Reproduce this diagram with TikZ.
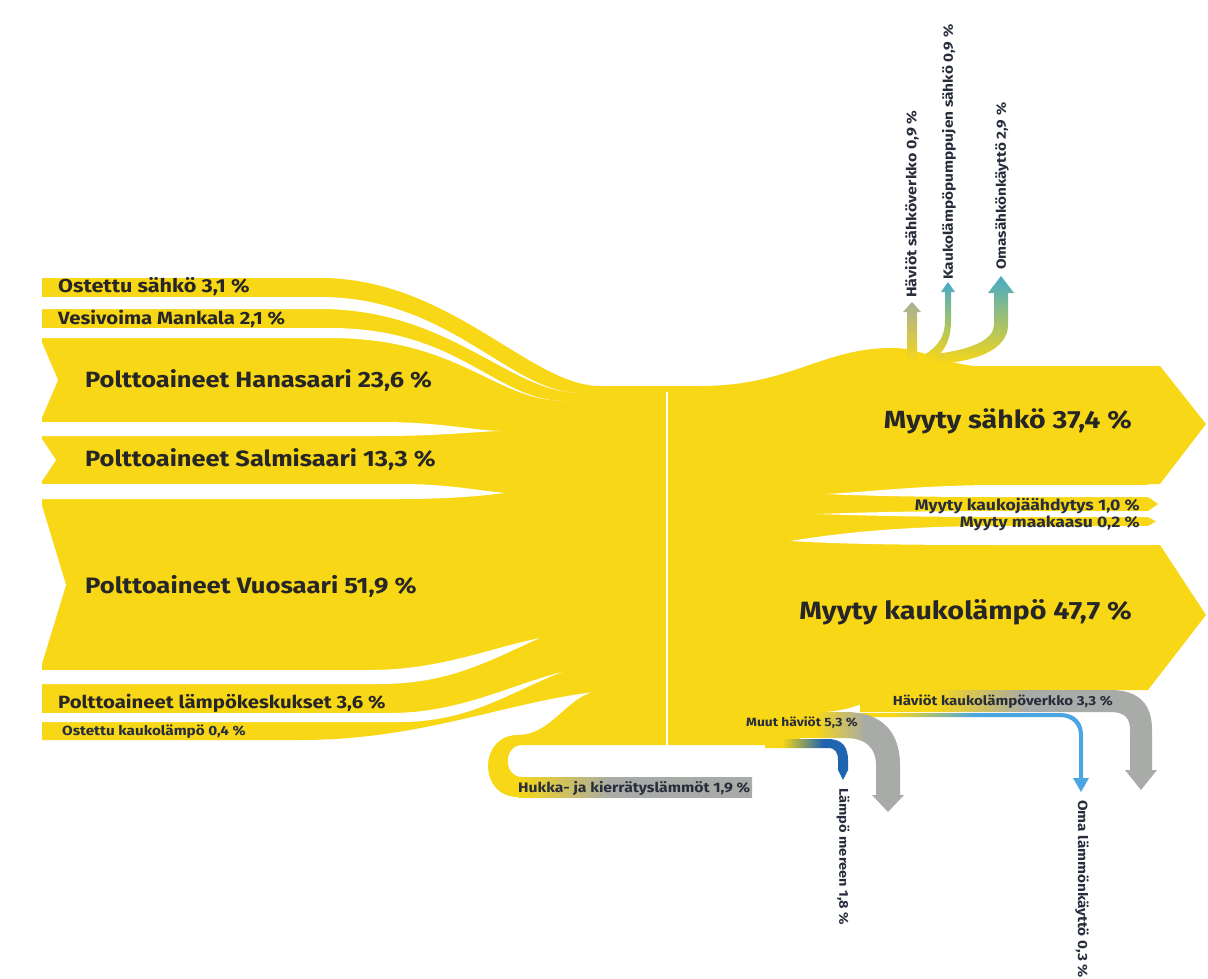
\documentclass[tikz,border=0pt]{standalone}
\usepackage{fontspec}
\usepackage{graphicx}
\setmainfont{Fira Sans}
\definecolor{hy}{RGB}{248,215,22}
\definecolor{hgray}{RGB}{168,171,168}
\definecolor{hteal}{RGB}{70,170,200}
\definecolor{hgreen}{RGB}{150,195,90}
\definecolor{hblue}{RGB}{30,100,175}
\definecolor{hlblue}{RGB}{75,165,225}
\definecolor{htext}{RGB}{38,38,38}
\definecolor{hnavy}{RGB}{40,45,60}
\pgfdeclarehorizontalshading{shMuut}{100bp}{color(0bp)=(hy); color(47bp)=(hy); color(63bp)=(hgray); color(100bp)=(hgray)}
\pgfdeclarehorizontalshading{shHkl}{100bp}{color(0bp)=(hy); color(37bp)=(hy); color(53bp)=(hgray); color(100bp)=(hgray)}
\pgfdeclarehorizontalshading{shMeri}{100bp}{color(0bp)=(hy); color(35bp)=(hy); color(60bp)=(hblue); color(100bp)=(hblue)}
\pgfdeclarehorizontalshading{shOma}{100bp}{color(0bp)=(hy); color(32bp)=(hy); color(50bp)=(hlblue); color(100bp)=(hlblue)}
\pgfdeclarehorizontalshading{shHukka}{100bp}{color(0bp)=(hy); color(25bp)=(hy); color(45bp)=(hgray); color(100bp)=(hgray)}
\newcommand\wtxt[1]{\scalebox{1.15}[1]{#1}}
\newcommand\fs[1]{\bfseries\fontsize{#1}{#1}\selectfont}
\tikzset{
  lab/.style={text=htext, inner sep=0pt},
  small/.style={text=hnavy, inner sep=0pt},
  gap/.style={fill=white},
}
\begin{document}
\begin{tikzpicture}[x=1pt,y=-1pt]
\useasboundingbox (0,0) rectangle (1208,979);
\fill[white] (0,0) rectangle (1208,979);
% main yellow silhouette
\fill[hy] (42,278) -- (320,278) .. controls (450,278) and (530,386) .. (600,386)
  -- (700,386) .. controls (790,386) and (820,349) .. (890,348)
  .. controls (920,347) and (935,362) .. (975,366)
  -- (1160,366) -- (1206,424) -- (1160,484) -- (1148,484) -- (1148,497) -- (1158,504)
  -- (1148,511) -- (1148,517) -- (1156,521.5) -- (1148,526) -- (1148,545) -- (1160,545)
  -- (1206,615) -- (1148,690) -- (920,690) .. controls (880,690) and (860,712) .. (820,712)
  -- (800,712) -- (800,745) -- (522,745) .. controls (503,745) and (503,777) .. (522,777)
  -- (530,777) -- (530,797) -- (518,797) .. controls (478,797) and (478,735) .. (518,735)
  .. controls (550,735) and (565,700) .. (593,692)
  .. controls (500,704) and (420,740) .. (300,740) -- (42,740) -- cycle;
% left gaps
\fill[gap] (40,297) -- (320,297) .. controls (450,297) and (510,393) .. (580,393)
  .. controls (510,393) and (450,309) .. (320,309) -- (40,309) -- cycle;
\fill[gap] (40,328) -- (330,328) .. controls (460,328) and (495,401) .. (565,401)
  .. controls (495,401) and (460,338) .. (330,338) -- (40,338) -- cycle;
\fill[gap] (40,422) -- (380,422) .. controls (440,422) and (470,430) .. (500,431)
  .. controls (470,432) and (440,436) .. (380,436) -- (40,436) -- cycle;
\fill[gap] (40,484) -- (400,484) .. controls (450,484) and (480,491) .. (505,493)
  .. controls (480,496) and (450,499) .. (400,499) -- (40,499) -- cycle;
\fill[gap] (40,670) -- (370,670) .. controls (440,670) and (490,648) .. (540,638)
  .. controls (490,660) and (450,684) .. (380,684) -- (40,684) -- cycle;
\fill[gap] (40,713) -- (390,713) .. controls (460,713) and (510,685) .. (562,672)
  .. controls (510,692) and (470,722) .. (400,722) -- (40,722) -- cycle;
% notches
\fill[gap] (40,338) -- (58,380) -- (40,422) -- cycle;
\fill[gap] (40,436) -- (56,460) -- (40,484) -- cycle;
\fill[gap] (40,499) -- (66,585) -- (40,670) -- cycle;
% right gaps
\fill[gap] (1152,485) -- (1000,485) .. controls (920,485) and (870,492) .. (825,494)
  .. controls (870,496) and (920,497) .. (1000,497) -- (1152,497) -- cycle;
\fill[gap] (1152,511) -- (1000,511) .. controls (900,511) and (850,513) .. (815,514)
  .. controls (850,515) and (900,517) .. (1000,517) -- (1152,517) -- cycle;
\fill[gap] (1152,526) -- (1000,526) .. controls (900,526) and (840,533) .. (790,541)
  .. controls (840,544) and (900,545) .. (1000,545) -- (1152,545) -- cycle;
% centre line
\draw[white, line width=2pt] (667,392) -- (667,745);
% top output bands
\shade[bottom color=hy, top color=hgray!80!hgreen] (907,362) -- (907,312) -- (903,312) -- (912,302)
  -- (921,312) -- (917,312) -- (917,362) -- cycle;
\shade[bottom color=hy, top color=hteal] (924,355) .. controls (940,345) and (945,335) .. (945,320)
  -- (945,292) -- (941,292) -- (948,282) -- (955,292) -- (951,292) -- (951,320)
  .. controls (951,340) and (945,352) .. (932,360) -- cycle;
\shade[bottom color=hy, middle color=hgreen, top color=hteal] (935,364) .. controls (975,362) and (1008,350) .. (1008,325)
  -- (1008,293) -- (1014,293) -- (1001,276) -- (988,293) -- (994,293) -- (994,325)
  .. controls (994,340) and (970,350) .. (935,354) -- cycle;
% bottom output bands
\shade[shading=shHkl] (860,690) -- (1110,690) .. controls (1140,690) and (1152,705) .. (1152,730)
  -- (1152,770) -- (1157,770) -- (1141,790) -- (1125,770) -- (1130,770) -- (1130,730)
  .. controls (1130,718) and (1125,712) .. (1110,712) -- (860,712) -- cycle;
\shade[shading=shOma] (860,713) -- (1060,713) .. controls (1075,713) and (1083,722) .. (1083,735)
  -- (1083,778) -- (1089,778) -- (1081,792) -- (1073,778) -- (1079,778) -- (1079,735)
  .. controls (1079,725) and (1072,717) .. (1060,717) -- (860,717) -- cycle;
\shade[shading=shMuut] (745,712) -- (845,712) .. controls (885,712) and (900,735) .. (900,765)
  -- (900,795) -- (904,795) -- (888,812) -- (872,795) -- (876,795) -- (876,765)
  .. controls (876,748) and (866,738) .. (845,738) -- (745,738) -- cycle;
\shade[shading=shMeri] (765,739) -- (828,739) .. controls (843,739) and (848,748) .. (848,760)
  -- (848,770) -- (843,780) -- (838,770) -- (838,760) .. controls (838,752) and (835,748) .. (828,748)
  -- (765,748) -- cycle;
\shade[shading=shHukka] (518,777) -- (752,777) -- (752,797) -- (518,797) -- cycle;
% labels
\node[lab, anchor=west, font=\fs{18.8}] (l1) at (58,287) {\wtxt{Ostettu sähkö 3,1 \%}};
\node[lab, anchor=west, font=\fs{17.7}] (l2) at (58,319) {\wtxt{Vesivoima Mankala 2,1 \%}};
\node[lab, anchor=west, font=\fs{22.1}] (l3) at (85,380) {\wtxt{Polttoaineet Hanasaari 23,6 \%}};
\node[lab, anchor=west, font=\fs{22.1}] (l4) at (85,459) {\wtxt{Polttoaineet Salmisaari 13,3 \%}};
\node[lab, anchor=west, font=\fs{22.3}] (l5) at (85,586) {\wtxt{Polttoaineet Vuosaari 51,9 \%}};
\node[lab, anchor=west, font=\fs{17.7}] (l6) at (58,703) {\wtxt{Polttoaineet lämpökeskukset 3,6 \%}};
\node[small, anchor=west, font=\fs{13.3}] (l7) at (62,732) {\wtxt{Ostettu kaukolämpö 0,4 \%}};
\node[lab, anchor=east, font=\fs{24.8}] (r1) at (1132,421) {\wtxt{Myyty sähkö 37,4 \%}};
\node[lab, anchor=east, font=\fs{25}] (r2) at (1132,612) {\wtxt{Myyty kaukolämpö 47,7 \%}};
\node[small, anchor=east, font=\fs{15.3}] (r3) at (1140,506) {\wtxt{Myyty kaukojäähdytys 1,0 \%}};
\node[small, anchor=east, font=\fs{15.3}] (r4) at (1140,523) {\wtxt{Myyty maakaasu 0,2 \%}};
\node[small, anchor=east, font=\fs{13.1}] (r5) at (1113,702) {\wtxt{Häviöt kaukolämpöverkko 3,3 \%}};
\node[small, anchor=west, font=\fs{12}] (r6) at (746,723) {\wtxt{Muut häviöt 5,3 \%}};
\node[small, anchor=west, font=\fs{13.7}] (r7) at (518,788) {\wtxt{Hukka- ja kierrätyslämmöt 1,9 \%}};
\node[small, anchor=west, rotate=-90, font=\fs{12.7}] (r8) at (843,788) {\wtxt{Lämpö mereen 1,8 \%}};
\node[small, anchor=west, rotate=-90, font=\fs{13.3}] (r9) at (1082,800) {\wtxt{Oma lämmönkäyttö 0,3 \%}};
\node[small, anchor=west, rotate=90, font=\fs{13.9}] (t1) at (912,298) {\wtxt{Häviöt sähköverkko 0,9 \%}};
\node[small, anchor=west, rotate=90, font=\fs{13.4}] (t2) at (949,280) {\wtxt{Kaukolämpöpumppujen sähkö 0,9 \%}};
\node[small, anchor=west, rotate=90, font=\fs{13.3}] (t3) at (1002,270) {\wtxt{Omasähkönkäyttö 2,9 \%}};
\end{tikzpicture}
\end{document}
